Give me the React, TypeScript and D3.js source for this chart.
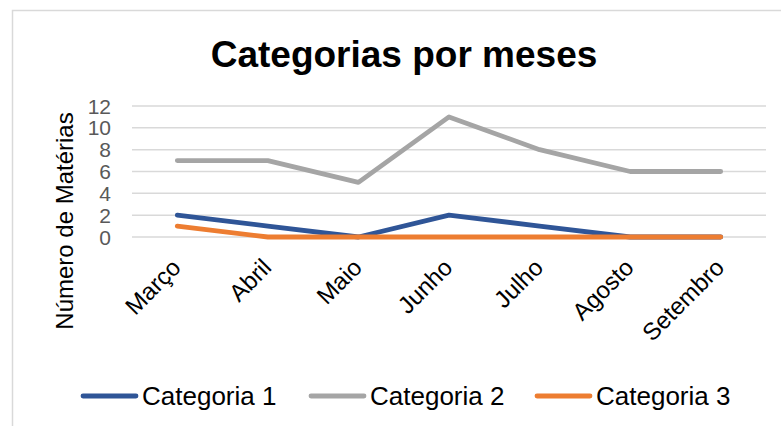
import React from "react";
import * as d3 from "d3";

const months = ["Março", "Abril", "Maio", "Junho", "Julho", "Agosto", "Setembro"];
const cat1 = [2, 1, 0, 2, 1, 0, 0];
const cat2 = [7, 7, 5, 11, 8, 6, 6];
const cat3 = [1, 0, 0, 0, 0, 0, 0];
const seriesNames = ["Categoria 1", "Categoria 2", "Categoria 3"];
const seriesColors = ["#2F5597", "#A5A5A5", "#ED7D31"];
const yTicks = [0, 2, 4, 6, 8, 10, 12];

const W = 781;
const H = 426;
const FONT = "'Liberation Sans', Arial, sans-serif";

export default function App() {
  const x = d3.scaleBand<string>().domain(months).range([132, 766]);
  const y = d3.scaleLinear().domain([0, 12]).range([237, 106]);
  const line = d3
    .line<number>()
    .x((_, i) => (x(months[i]) as number) + x.bandwidth() / 2)
    .y((d) => y(d));
  const series = [cat1, cat2, cat3];

  const legendX = [83, 311, 537];

  return (
    <svg
      width={W}
      height={H}
      style={{ position: "absolute", left: 0, top: 0, background: "#fff" }}
      fontFamily={FONT}
    >
      <rect x={0} y={0} width={W} height={H} fill="#fff" />
      <rect x={12.5} y={10.5} width={W} height={H} fill="none" stroke="#D9D9D9" strokeWidth={1.5} />
      <text x={404} y={67} textAnchor="middle" fontSize={37} fontWeight="bold" fill="#000">
        Categorias por meses
      </text>
      {yTicks.map((t) => (
        <g key={t}>
          <line x1={132} x2={766} y1={y(t)} y2={y(t)} stroke="#D9D9D9" strokeWidth={1.5} />
          <text x={111} y={y(t)} dy="0.36em" textAnchor="end" fontSize={21} fill="#595959">
            {t}
          </text>
        </g>
      ))}
      <text
        transform={`translate(73, 221) rotate(-90)`}
        textAnchor="middle"
        fontSize={24}
        fill="#000"
      >
        Número de Matérias
      </text>
      {months.map((m) => {
        const cx = (x(m) as number) + x.bandwidth() / 2;
        return (
          <text
            key={m}
            transform={`translate(${cx + 5}, 269) rotate(-45)`}
            textAnchor="end"
            fontSize={24}
            fill="#000"
          >
            {m}
          </text>
        );
      })}
      {series.map((s, i) => (
        <path
          key={i}
          d={line(s) || ""}
          fill="none"
          stroke={seriesColors[i]}
          strokeWidth={4.8}
          strokeLinecap="round"
          strokeLinejoin="round"
        />
      ))}
      {seriesNames.map((n, i) => (
        <g key={n}>
          <line
            x1={legendX[i]}
            x2={legendX[i] + 53}
            y1={396}
            y2={396}
            stroke={seriesColors[i]}
            strokeWidth={4.8}
            strokeLinecap="round"
          />
          <text x={legendX[i] + 59} y={396} dy="0.35em" fontSize={26} fill="#000">
            {n}
          </text>
        </g>
      ))}
    </svg>
  );
}
